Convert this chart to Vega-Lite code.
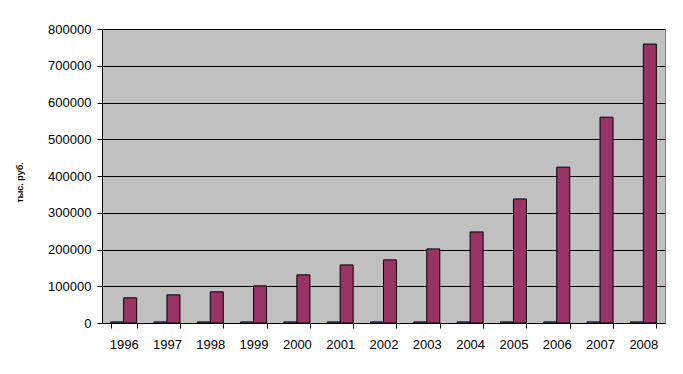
{
  "$schema": "https://vega.github.io/schema/vega-lite/v6.json",
  "width": 563,
  "height": 294,
  "autosize": "none",
  "padding": {"left": 102, "top": 29, "right": 18, "bottom": 51},
  "background": "white",
  "config": {
    "view": {"fill": "#C0C0C0", "stroke": "#808080", "strokeWidth": 1},
    "font": "Liberation Sans"
  },
  "data": {
    "values": [
      {"year": "1996", "series": "A", "value": 3000},
      {"year": "1996", "series": "B", "value": 68500},
      {"year": "1997", "series": "A", "value": 3000},
      {"year": "1997", "series": "B", "value": 76600},
      {"year": "1998", "series": "A", "value": 3000},
      {"year": "1998", "series": "B", "value": 84800},
      {"year": "1999", "series": "A", "value": 3000},
      {"year": "1999", "series": "B", "value": 101000},
      {"year": "2000", "series": "A", "value": 3000},
      {"year": "2000", "series": "B", "value": 131000},
      {"year": "2001", "series": "A", "value": 3000},
      {"year": "2001", "series": "B", "value": 158000},
      {"year": "2002", "series": "A", "value": 3000},
      {"year": "2002", "series": "B", "value": 171700},
      {"year": "2003", "series": "A", "value": 3000},
      {"year": "2003", "series": "B", "value": 201600},
      {"year": "2004", "series": "A", "value": 3000},
      {"year": "2004", "series": "B", "value": 247800},
      {"year": "2005", "series": "A", "value": 3000},
      {"year": "2005", "series": "B", "value": 337500},
      {"year": "2006", "series": "A", "value": 3000},
      {"year": "2006", "series": "B", "value": 424000},
      {"year": "2007", "series": "A", "value": 3000},
      {"year": "2007", "series": "B", "value": 560000},
      {"year": "2008", "series": "A", "value": 3000},
      {"year": "2008", "series": "B", "value": 759000}
    ]
  },
  "mark": {"type": "bar", "stroke": "black", "strokeWidth": 1},
  "encoding": {
    "x": {
      "field": "year",
      "type": "nominal",
      "scale": {"paddingInner": 0.4, "paddingOuter": 0.2},
      "axis": {
        "title": null,
        "labelAngle": 0,
        "labelFontSize": 13,
        "labelColor": "black",
        "labelPadding": 10,
        "tickBand": "extent",
        "tickColor": "black",
        "tickSize": 5,
        "domainColor": "black",
        "grid": false
      }
    },
    "xOffset": {"field": "series", "type": "nominal", "sort": ["A", "B"]},
    "y": {
      "field": "value",
      "type": "quantitative",
      "scale": {"domain": [0, 800000]},
      "axis": {
        "title": "тыс. руб.",
        "titleFontSize": 9,
        "titleFontWeight": "bold",
        "titleColor": "black",
        "titleX": -78,
        "titleY": 153,
        "values": [0, 100000, 200000, 300000, 400000, 500000, 600000, 700000, 800000],
        "format": "d",
        "labelFontSize": 13,
        "labelColor": "black",
        "labelPadding": 6,
        "tickColor": "black",
        "tickSize": 5,
        "domainColor": "black",
        "grid": true,
        "gridColor": "black",
        "gridOpacity": 1,
        "gridWidth": 1
      }
    },
    "fill": {
      "field": "series",
      "type": "nominal",
      "scale": {"domain": ["A", "B"], "range": ["#9999FF", "#993366"]},
      "legend": null
    }
  }
}
